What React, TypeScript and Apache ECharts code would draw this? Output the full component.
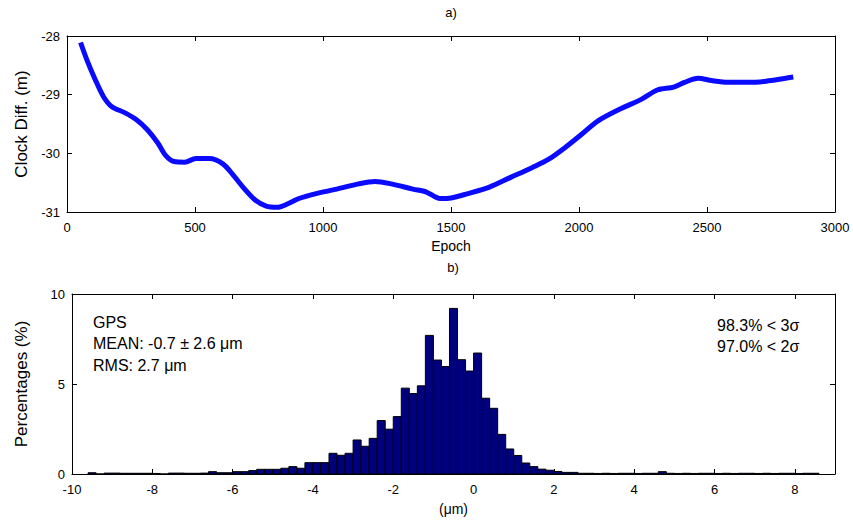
import React, { useEffect, useRef } from "react";
import * as echarts from "echarts";

// ---- Panel a) : clock difference vs epoch ----
const epochs = [53, 78, 110, 142, 174, 227, 269, 312, 354, 386, 418, 460, 503, 556, 609, 651, 694, 736, 778, 821, 863, 906, 969, 1054, 1139, 1203, 1266, 1351, 1404, 1457, 1500, 1563, 1648, 1733, 1818, 1882, 1946, 2009, 2073, 2158, 2243, 2306, 2370, 2412, 2465, 2518, 2582, 2667, 2731, 2795, 2837];
const clockDiff = [-28.11, -28.41, -28.74, -29.03, -29.2, -29.31, -29.42, -29.59, -29.82, -30.04, -30.14, -30.15, -30.09, -30.09, -30.18, -30.38, -30.61, -30.8, -30.9, -30.92, -30.86, -30.77, -30.69, -30.61, -30.52, -30.48, -30.52, -30.61, -30.66, -30.77, -30.76, -30.69, -30.58, -30.41, -30.24, -30.1, -29.9, -29.68, -29.45, -29.25, -29.08, -28.92, -28.87, -28.79, -28.72, -28.76, -28.79, -28.79, -28.77, -28.73, -28.7];

// ---- Panel b) : histogram (bin centre in µm, percentage) ----
const binWidth = 0.2;
const histBins: [number, number][] = [
  [-9.5, 0.07], [-9.3, 0], [-9.1, 0.05], [-8.9, 0.05], [-8.7, 0.04], [-8.5, 0.04], [-8.3, 0.04], [-8.1, 0.04],
  [-7.9, 0.03], [-7.7, 0], [-7.5, 0.05], [-7.3, 0.05], [-7.1, 0.04], [-6.9, 0.04], [-6.7, 0.05], [-6.5, 0.13],
  [-6.3, 0.07], [-6.1, 0.07], [-5.9, 0.13], [-5.7, 0.13], [-5.5, 0.19], [-5.3, 0.26], [-5.1, 0.26], [-4.9, 0.26],
  [-4.7, 0.32], [-4.5, 0.41], [-4.3, 0.32], [-4.1, 0.63], [-3.9, 0.63], [-3.7, 0.63], [-3.5, 1.15], [-3.3, 1.04],
  [-3.1, 1.15], [-2.9, 1.89], [-2.7, 1.54], [-2.5, 1.98], [-2.3, 2.97], [-2.1, 2.49], [-1.9, 3.19], [-1.7, 4.77],
  [-1.5, 4.47], [-1.3, 4.9], [-1.1, 7.7], [-0.9, 6.33], [-0.7, 5.97], [-0.5, 9.2], [-0.3, 6.35], [-0.1, 5.72],
  [0.1, 6.72], [0.3, 4.21], [0.5, 3.65], [0.7, 2.2], [0.9, 1.39], [1.1, 1.03], [1.3, 0.61], [1.5, 0.41],
  [1.7, 0.27], [1.9, 0.21], [2.1, 0.14], [2.3, 0.09], [2.5, 0.09], [2.7, 0.04], [2.9, 0.04], [3.1, 0.03],
  [3.3, 0.04], [3.5, 0.03], [3.7, 0.04], [3.9, 0.04], [4.1, 0.03], [4.3, 0.04], [4.5, 0.04], [4.7, 0.13],
  [4.9, 0.04], [5.1, 0.03], [5.3, 0.04], [5.5, 0.03], [5.7, 0.04], [5.9, 0.04], [6.1, 0.03], [6.3, 0.04],
  [6.5, 0.03], [6.7, 0.04], [6.9, 0.04], [7.1, 0.03], [7.3, 0.04], [7.5, 0.03], [7.7, 0.04], [7.9, 0.04],
  [8.1, 0.03], [8.3, 0.04], [8.5, 0.04],
];

const statsLeft = ["GPS", "MEAN: -0.7 \u00b1 2.6 \u03bcm", "RMS: 2.7 \u03bcm"];
const statsRight = ["98.3% < 3\u03c3", "97.0% < 2\u03c3"];

const FONT = "'Liberation Sans', Arial, sans-serif";

function boxAxis(gridIndex: number, position: string, min: number, max: number, interval: number, showLabel: boolean, extra: any = {}) {
  return {
    type: "value",
    gridIndex,
    position,
    min,
    max,
    interval,
    axisLine: { show: true, onZero: false, lineStyle: { color: "#000", width: 1 } },
    axisTick: { show: true, inside: true, length: 5, lineStyle: { color: "#000", width: 1 } },
    axisLabel: {
      show: showLabel,
      color: "#000",
      fontSize: 13,
      fontFamily: FONT,
      formatter: (v: number) => String(v),
      ...(extra.axisLabel || {}),
    },
    splitLine: { show: false },
    ...extra.rest,
  };
}

export default function App() {
  const ref = useRef<HTMLDivElement>(null);
  useEffect(() => {
    if (!ref.current) return;
    const chart = echarts.init(ref.current, null, { renderer: "svg" });
    const lineData = epochs.map((e, i) => [e, clockDiff[i]]);
    const option: any = {
      animation: false,
      backgroundColor: "#fff",
      textStyle: { fontFamily: FONT },
      grid: [
        { left: 67, top: 36, width: 768, height: 176 },
        { left: 72, top: 294, width: 763, height: 180 },
      ],
      xAxis: [
        boxAxis(0, "bottom", 0, 3000, 500, true, {
          axisLabel: { margin: 9 },
          rest: { name: "Epoch", nameLocation: "middle", nameGap: 27, nameTextStyle: { color: "#000", fontSize: 14, fontFamily: FONT } },
        }),
        boxAxis(0, "top", 0, 3000, 500, false),
        boxAxis(1, "bottom", -10, 9, 2, true, {
          axisLabel: { margin: 9, showMaxLabel: false },
          rest: { name: "(\u03bcm)", nameLocation: "middle", nameGap: 28, nameTextStyle: { color: "#000", fontSize: 14, fontFamily: FONT } },
        }),
        boxAxis(1, "top", -10, 9, 2, false),
      ],
      yAxis: [
        boxAxis(0, "left", -31, -28, 1, true, {
          axisLabel: { margin: 7 },
          rest: { name: "Clock Diff. (m)", nameLocation: "middle", nameGap: 37, nameTextStyle: { color: "#000", fontSize: 17, fontFamily: FONT } },
        }),
        boxAxis(0, "right", -31, -28, 1, false),
        boxAxis(1, "left", 0, 10, 5, true, {
          axisLabel: { margin: 7 },
          rest: { name: "Percentages (%)", nameLocation: "middle", nameGap: 42, nameTextStyle: { color: "#000", fontSize: 17, fontFamily: FONT } },
        }),
        boxAxis(1, "right", 0, 10, 5, false),
      ],
      series: [
        {
          type: "line",
          xAxisIndex: 0,
          yAxisIndex: 0,
          data: lineData,
          showSymbol: false,
          smooth: 0.3,
          lineStyle: { color: "#0a0aff", width: 5 },
          z: 3,
        },
        {
          type: "custom",
          xAxisIndex: 2,
          yAxisIndex: 2,
          data: histBins,
          encode: { x: 0, y: 1 },
          renderItem: (params: any, api: any) => {
            const c = api.value(0);
            const v = api.value(1);
            const tl = api.coord([c - binWidth / 2, v]);
            const br = api.coord([c + binWidth / 2, 0]);
            return {
              type: "rect",
              shape: { x: tl[0], y: tl[1], width: br[0] - tl[0], height: br[1] - tl[1] },
              style: { fill: "#00007f", stroke: "#000", lineWidth: 1 },
            };
          },
        },
      ],
      graphic: [
        { type: "text", x: 451, y: 12, style: { text: "a)", fill: "#000", font: `13px ${FONT}`, textAlign: "center", textVerticalAlign: "middle" } },
        { type: "text", x: 453, y: 267, style: { text: "b)", fill: "#000", font: `13px ${FONT}`, textAlign: "center", textVerticalAlign: "middle" } },
        ...statsLeft.map((t, i) => ({
          type: "text",
          x: 93,
          y: 322 + i * 21.5,
          style: { text: t, fill: "#000", font: `16px ${FONT}`, textAlign: "left", textVerticalAlign: "middle" },
        })),
        ...statsRight.map((t, i) => ({
          type: "text",
          x: 717,
          y: 325 + i * 21,
          style: { text: t, fill: "#000", font: `16px ${FONT}`, textAlign: "left", textVerticalAlign: "middle" },
        })),
      ],
    };
    chart.setOption(option);
    return () => chart.dispose();
  }, []);
  return <div ref={ref} style={{ position: "fixed", left: 0, top: 0, width: 853, height: 525, background: "#fff" }} />;
}
